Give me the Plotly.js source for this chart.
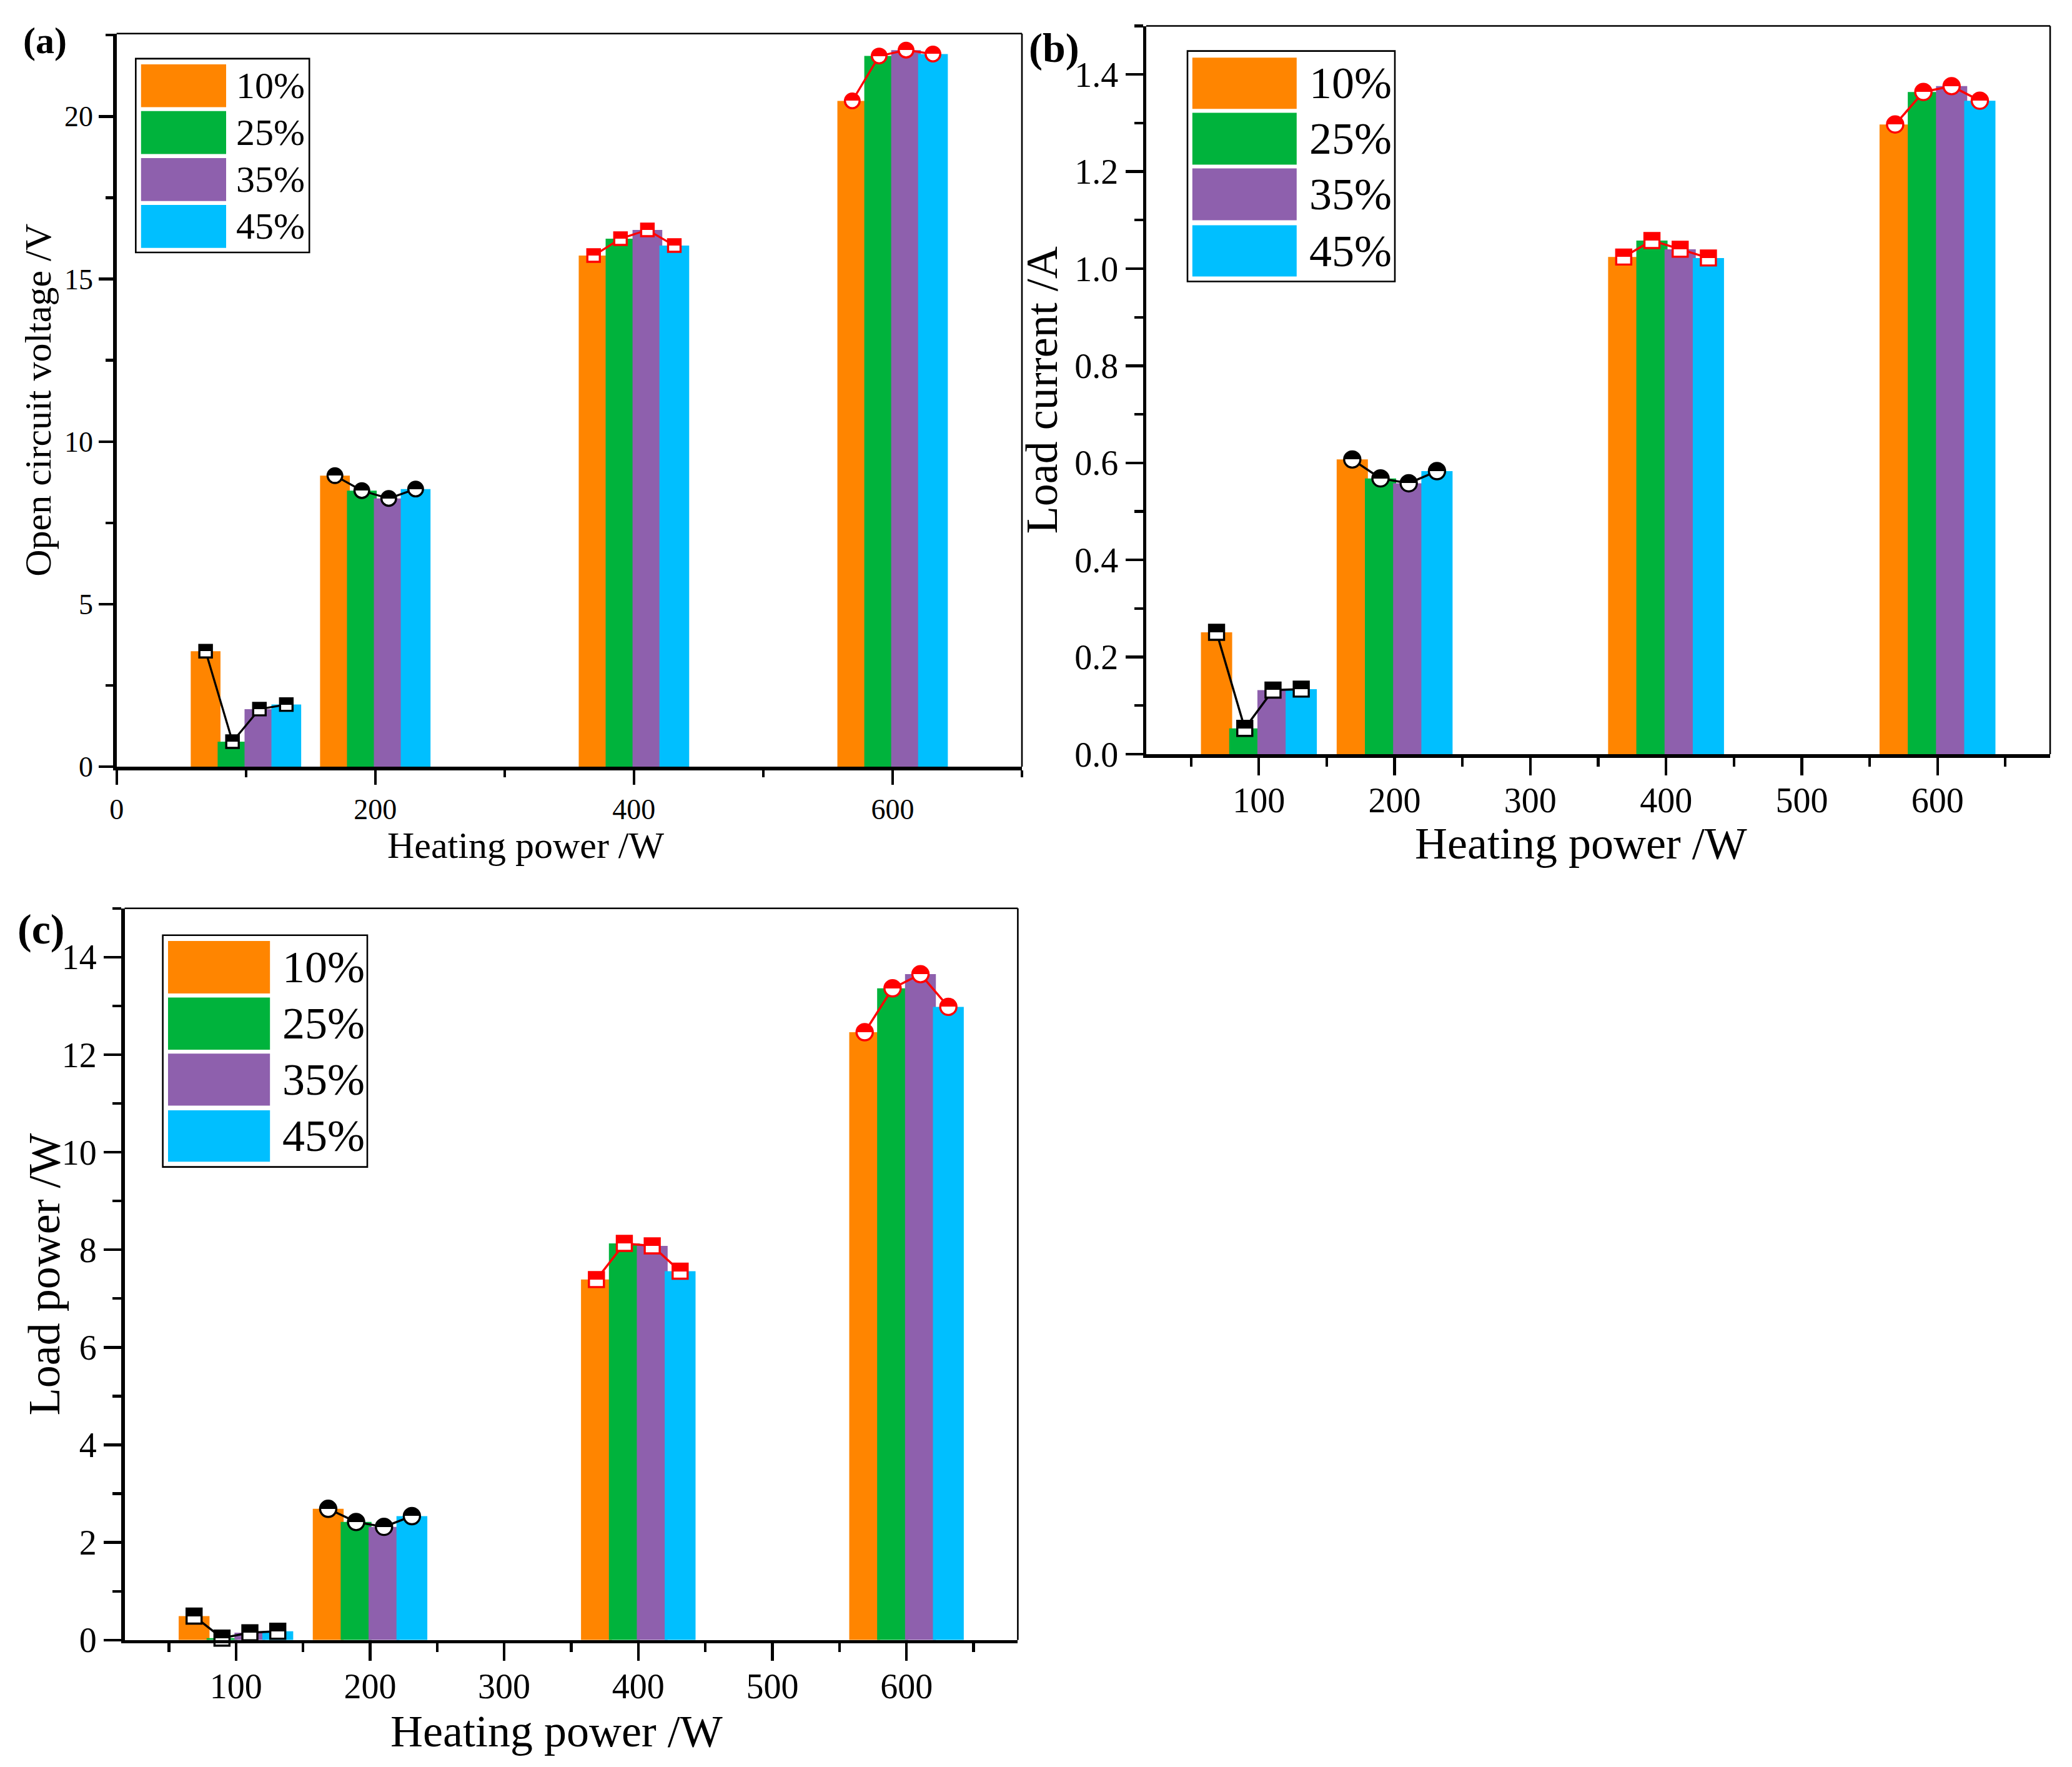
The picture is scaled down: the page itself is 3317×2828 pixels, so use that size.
<!DOCTYPE html>
<html>
<head>
<meta charset="utf-8">
<script src="https://cdn.plot.ly/plotly-3.0.1.min.js"></script>
<style>
html,body{margin:0;padding:0;background:#ffffff;}
#chart{width:3317px;height:2828px;}
</style>
</head>
<body>
<div id="chart"></div>
<script>
// ---------------- data ----------------
const powers = [100, 200, 400, 600];              // heating power groups (W)
const dutyLabels = ['10%', '25%', '35%', '45%'];  // series names

// (a) open circuit voltage /V
const voc10 = [3.55, 8.95, 15.72, 20.48];
const voc25 = [0.77, 8.49, 16.24, 21.86];
const voc35 = [1.77, 8.25, 16.51, 22.04];
const voc45 = [1.91, 8.54, 16.03, 21.92];

// (b) load current /A
const cur10 = [0.251, 0.607, 1.024, 1.297];
const cur25 = [0.053, 0.568, 1.058, 1.364];
const cur35 = [0.132, 0.558, 1.040, 1.376];
const cur45 = [0.134, 0.583, 1.022, 1.346];

// (c) load power /W
const pw10 = [0.49, 2.69, 7.39, 12.46];
const pw25 = [0.04, 2.42, 8.13, 13.36];
const pw35 = [0.15, 2.32, 8.08, 13.65];
const pw45 = [0.18, 2.54, 7.56, 12.98];

// axis titles
const xTitle = 'Heating power /W';
const yTitles = ['Open circuit voltage /V', 'Load current /A', 'Load power /W'];

// ---------------- style ----------------
const barColors = ['#FF8500', '#00B33C', '#8E60AD', '#00BFFF'];
const groupColors = ['#000000', '#000000', '#FF0000', '#FF0000'];
const groupSymbols = ['square', 'circle', 'square', 'circle'];
const slot = [-31.2, -10.4, 10.4, 31.2];
const BAR_W = 23;
const FONT = 'Liberation Serif';
const W = 3317, H = 2828;
const fx = v => v / W;
const fy = v => 1 - v / H;

function panelTraces(series, xa, ya, sq, ci, lw) {
  const out = [];
  series.forEach((vals, i) => {
    out.push({
      type: 'bar', name: dutyLabels[i],
      x: powers.map(p => p + slot[i]), y: vals, width: BAR_W,
      marker: {color: barColors[i], line: {width: 0}},
      xaxis: xa, yaxis: ya, showlegend: false, hoverinfo: 'skip'
    });
  });
  powers.forEach((p, g) => {
    out.push({
      type: 'scatter', mode: 'lines+markers',
      x: slot.map(o => p + o), y: series.map(v => v[g]),
      line: {color: groupColors[g], width: lw},
      marker: {
        symbol: groupSymbols[g], size: groupSymbols[g] === 'square' ? sq : ci,
        color: groupColors[g],
        gradient: {type: 'vertical', color: '#FFFFFF'},
        line: {color: groupColors[g], width: 3.4}
      },
      xaxis: xa, yaxis: ya, showlegend: false, hoverinfo: 'skip', cliponaxis: false
    });
  });
  return out;
}

const traces = [].concat(
  panelTraces([voc10, voc25, voc35, voc45], 'x', 'y', 20, 23.5, 3.3),
  panelTraces([cur10, cur25, cur35, cur45], 'x2', 'y2', 24, 26, 3.5),
  panelTraces([pw10, pw25, pw35, pw45], 'x3', 'y3', 24, 26, 3.5)
);

function axis(opts) {
  return Object.assign({
    showgrid: false, zeroline: false, showline: true,
    linecolor: '#000', linewidth: 5.5,
    ticks: 'outside', tickcolor: '#000', tickwidth: 4.3,
    automargin: false, fixedrange: true
  }, opts);
}
const tf = s => ({family: FONT, size: s, color: '#000'});

const layout = {
  width: W, height: H,
  margin: {l: 0, r: 0, t: 0, b: 0},
  paper_bgcolor: '#fff', plot_bgcolor: 'rgba(0,0,0,0)',
  barmode: 'overlay',
  font: {family: FONT, color: '#000'},
  showlegend: false,
  // panel (a)
  xaxis: axis({domain: [fx(186.7), fx(1636)], anchor: 'y', range: [0, 700], tick0: 0, dtick: 200,
    ticklen: 23, tickfont: tf(46),
    minor: {dtick: 100, ticks: 'outside', ticklen: 11, tickwidth: 4.3, tickcolor: '#000'}}),
  yaxis: axis({domain: [fy(1227), fy(53.7)], anchor: 'x', range: [0, 22.55], tick0: 0, dtick: 5,
    ticklen: 23, tickfont: tf(46),
    minor: {dtick: 2.5, ticks: 'outside', ticklen: 12, tickwidth: 4.3, tickcolor: '#000'},
    title: {text: yTitles[0], font: tf(60), standoff: 4}}),
  // panel (b)
  xaxis2: axis({domain: [fx(1835), fx(3282)], anchor: 'y2', range: [17, 683], tick0: 0, dtick: 100,
    ticklen: 28, tickfont: tf(56), ticklabelstandoff: -8,
    minor: {dtick: 50, ticks: 'outside', ticklen: 14, tickwidth: 4.3, tickcolor: '#000'}}),
  yaxis2: axis({domain: [fy(1207), fy(41.5)], anchor: 'x2', range: [0, 1.5], tick0: 0, dtick: 0.2,
    tickformat: '.1f', ticklen: 28, tickfont: tf(56),
    minor: {dtick: 0.1, ticks: 'outside', ticklen: 14, tickwidth: 4.3, tickcolor: '#000'},
    title: {text: yTitles[1], font: tf(72), standoff: 6}}),
  // panel (c)
  xaxis3: axis({domain: [fx(199.5), fx(1629.4)], anchor: 'y3', range: [17, 683], tick0: 0, dtick: 100,
    ticklen: 28, tickfont: tf(56), ticklabelstandoff: -8,
    minor: {dtick: 50, ticks: 'outside', ticklen: 14, tickwidth: 4.3, tickcolor: '#000'}}),
  yaxis3: axis({domain: [fy(2624.8), fy(1453.7)], anchor: 'x3', range: [0, 15], tick0: 0, dtick: 2,
    ticklen: 28, tickfont: tf(56),
    minor: {dtick: 1, ticks: 'outside', ticklen: 14, tickwidth: 4.3, tickcolor: '#000'}}),
  shapes: [],
  annotations: []
};

// axis titles placed as in the original (slightly off-centre, close to tick labels)
[[xTitle, 842, 1353, 60, 0], [xTitle, 2531, 1350, 72, 0], [xTitle, 891, 2771, 72, 0],
 [yTitles[2], 71, (1453.7 + 2624.8) / 2, 72, -90]].forEach(([t, x, y, s, ang]) => {
  layout.annotations.push({xref: 'paper', yref: 'paper', x: fx(x), y: fy(y),
    xanchor: 'center', yanchor: 'middle', textangle: ang, showarrow: false,
    text: t, font: tf(s)});
});

// thin top/right frame lines on each panel
[['x', 'y'], ['x2', 'y2'], ['x3', 'y3']].forEach(([xa, ya]) => {
  layout.shapes.push({type: 'line', xref: xa + ' domain', yref: ya + ' domain', x0: 0, x1: 1, y0: 1, y1: 1, line: {color: '#000', width: 2.6}});
  layout.shapes.push({type: 'line', xref: xa + ' domain', yref: ya + ' domain', x0: 1, x1: 1, y0: 0, y1: 1, line: {color: '#000', width: 2.6}});
});

// Origin-style legends (box, large swatches, labels)
const legends = [
  {box: [217.3, 93.9, 495.2, 404], sw: [225.8, 362], rows: [[103, 171.6], [177.8, 246.6], [253, 321.7], [328, 396.8]], tx: 375.8, fs: 60},
  {box: [1901, 81.6, 2233, 450.5], sw: [1908.8, 2075.8], rows: [[92.3, 174.3], [180.5, 263.4], [269.6, 352.5], [360.5, 442.5]], tx: 2094, fs: 72},
  {box: [260.6, 1496.7, 588, 1867.6], sw: [269, 432.2], rows: [[1505.9, 1590.1], [1596.5, 1679.9], [1686.3, 1769.6], [1776.9, 1859.3]], tx: 450.1, fs: 72}
];
legends.forEach(L => {
  layout.shapes.push({type: 'rect', xref: 'paper', yref: 'paper',
    x0: fx(L.box[0]), x1: fx(L.box[2]), y0: fy(L.box[3]), y1: fy(L.box[1]),
    line: {color: '#000', width: 2.6}, fillcolor: '#fff', layer: 'above'});
  L.rows.forEach((r, i) => {
    layout.shapes.push({type: 'rect', xref: 'paper', yref: 'paper',
      x0: fx(L.sw[0]), x1: fx(L.sw[1]), y0: fy(r[1]), y1: fy(r[0]),
      line: {width: 0}, fillcolor: barColors[i], layer: 'above'});
    layout.annotations.push({xref: 'paper', yref: 'paper', x: fx(L.tx), y: fy((r[0] + r[1]) / 2),
      xanchor: 'left', yanchor: 'middle', showarrow: false, text: dutyLabels[i],
      font: tf(L.fs)});
  });
});

// panel letters
[['(a)', 34.6, 64.8, 60], ['(b)', 1644.5, 76.7, 66], ['(c)', 25.8, 1486.7, 68]].forEach(([t, x, y, s]) => {
  layout.annotations.push({xref: 'paper', yref: 'paper', x: fx(x), y: fy(y), xanchor: 'left', yanchor: 'middle',
    showarrow: false, text: '<b>' + t + '</b>', font: tf(s)});
});

Plotly.newPlot('chart', traces, layout, {staticPlot: true, displayModeBar: false}).then(gd => {
  // sharp half-filled markers: top half marker colour, bottom half white
  gd.querySelectorAll('linearGradient').forEach(g => {
    const st = g.querySelectorAll('stop');
    if (st.length === 2) {
      st[0].setAttribute('offset', '50%');
      st[1].setAttribute('offset', '50%');
    }
  });
});
</script>
</body>
</html>
